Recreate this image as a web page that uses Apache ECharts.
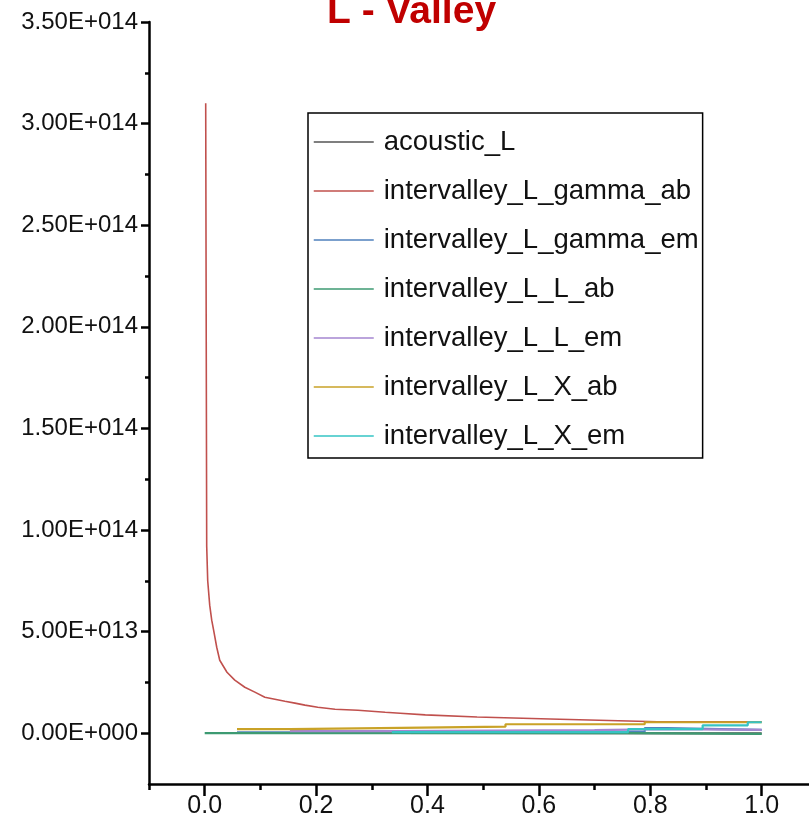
<!DOCTYPE html>
<html>
<head>
<meta charset="utf-8">
<script src="https://cdn.jsdelivr.net/npm/echarts@6/dist/echarts.min.js"></script>
<style>
html,body{margin:0;padding:0;background:#fff;}
#chart{width:809px;height:838px;}
</style>
</head>
<body>
<div id="chart"></div>
<script>
// ---- data ----
const seriesNames = ['acoustic_L','intervalley_L_gamma_ab','intervalley_L_gamma_em','intervalley_L_L_ab','intervalley_L_L_em','intervalley_L_X_ab','intervalley_L_X_em'];

const acousticX = [0.185, 0.336, 1.0];
const acousticY = [0.1e12, -0.1e12, -0.1e12];

const gammaAbX = [0.0018, 0.0036, 0.0054, 0.009, 0.0126, 0.016, 0.0216, 0.027, 0.040, 0.054, 0.072, 0.090, 0.108, 0.126, 0.144, 0.162, 0.180, 0.203, 0.234, 0.275, 0.324, 0.351, 0.396, 0.489, 0.620, 0.813, 1.0];
const gammaAbY = [3.10e14, 9.2e13, 7.5e13, 6.3e13, 5.56e13, 5.07e13, 4.23e13, 3.59e13, 3.0e13, 2.61e13, 2.26e13, 2.02e13, 1.77e13, 1.67e13, 1.57e13, 1.48e13, 1.38e13, 1.28e13, 1.18e13, 1.13e13, 1.03e13, 0.98e13, 0.90e13, 0.80e13, 0.70e13, 0.56e13, 0.56e13];

const gammaEmX = [0.058, 0.336, 0.79, 0.83, 1.0];
const gammaEmY = [0.4e12, 0.8e12, 2.5e12, 1.6e12, 1.6e12];

const llAbX = [0.0, 0.76, 1.0];
const llAbY = [0.0, -0.3e12, -0.3e12];

const llEmX = [0.153, 0.336, 0.70, 0.83, 1.0];
const llEmY = [1.0e12, 1.5e12, 2.0e12, 1.6e12, 1.6e12];

const lxAbX = [0.058, 0.153, 0.315, 0.54, 0.79, 1.0];
const lxAbY = [2.0e12, 2.5e12, 3.2e12, 4.4e12, 5.4e12, 5.4e12];

const lxEmX = [0.336, 0.76, 0.894, 0.975, 1.0];
const lxEmY = [0.5e12, 2.0e12, 3.9e12, 5.4e12, 5.4e12];

const xTicks = [0, 0.2, 0.4, 0.6, 0.8, 1.0];
const xMinorTicks = [-0.1, 0.1, 0.3, 0.5, 0.7, 0.9, 1.1];
const yTicks = [0, 5e13, 1e14, 1.5e14, 2e14, 2.5e14, 3e14, 3.5e14];
const yMinorTicks = [2.5e13, 7.5e13, 1.25e14, 1.75e14, 2.25e14, 2.75e14, 3.25e14];

const colors = ['#555555', '#c0504d', '#4f81bd', '#3d9a72', '#a586d0', '#c9a227', '#35c4c4'];

// ---- build ----
function pairs(xs, ys){ return xs.map((x,i)=>[x, ys[i]]); }
function sci(v){
  if (v === 0) return '0.00E+000';
  const s = v.toExponential(2);
  const parts = s.split('e');
  const sign = parts[1][0];
  const d = parts[1].slice(1).padStart(3,'0');
  return parts[0] + 'E' + sign + d;
}
const FONT = "'Liberation Sans','Arial',sans-serif";
const dataSets = [
  pairs(acousticX, acousticY),
  pairs(gammaAbX, gammaAbY),
  pairs(gammaEmX, gammaEmY),
  pairs(llAbX, llAbY),
  pairs(llEmX, llEmY),
  pairs(lxAbX, lxAbY),
  pairs(lxEmX, lxEmY)
];

const series = seriesNames.map((name, i) => ({
  name: name,
  type: 'line',
  data: dataSets[i],
  step: i === 1 ? false : 'end',
  symbol: 'none',
  showSymbol: false,
  color: colors[i],
  lineStyle: {color: colors[i], width: i === 1 ? 1.6 : 2.2},
  z: 2 + i,
  animation: false
}));

const axisLineStyle = {color: '#000', width: 2.5};

const option = {
  animation: false,
  backgroundColor: '#ffffff',
  title: {
    text: 'L - Valley',
    left: 327,
    top: -7,
    padding: 0,
    textStyle: {
      color: '#c00000',
      fontSize: 39,
      fontWeight: 'bold',
      fontFamily: "'Liberation Sans','Arial',sans-serif"
    }
  },
  legend: {
    orient: 'vertical',
    left: 308,
    top: 113,
    padding: [15, 4, 8, 5],
    itemGap: 21,
    itemWidth: 60,
    itemHeight: 30,
    borderColor: '#000',
    borderWidth: 1.5,
    backgroundColor: '#fff',
    data: seriesNames,
    itemStyle: {opacity: 0, borderWidth: 0},
    lineStyle: {width: 1.5},
    textStyle: {
      fontFamily: FONT,
      fontSize: 27.5,
      color: '#111',
      padding: [0, 0, 0, 5]
    }
  },
  grid: {
    left: 149,
    top: 22,
    right: -8.4,
    bottom: 54,
    containLabel: false,
    outerBoundsMode: 'none'
  },
  xAxis: [
    {
      type: 'value',
      min: -0.1,
      max: 1.1,
      position: 'bottom',
      axisLine: {show: true, onZero: false, lineStyle: axisLineStyle},
      axisTick: {show: true, customValues: xTicks, length: 12, lineStyle: axisLineStyle},
      axisLabel: {
        customValues: xTicks,
        formatter: v => Number(v).toFixed(1),
        margin: 10,
        fontFamily: FONT,
        fontSize: 25,
        color: '#111'
      },
      splitLine: {show: false}
    },
    {
      type: 'value',
      min: -0.1,
      max: 1.1,
      position: 'bottom',
      axisLine: {show: false, onZero: false},
      axisTick: {show: true, customValues: xMinorTicks, length: 6, lineStyle: axisLineStyle},
      axisLabel: {show: false},
      splitLine: {show: false}
    }
  ],
  yAxis: [
    {
      type: 'value',
      min: -2.5e13,
      max: 3.5e14,
      position: 'left',
      axisLine: {show: true, onZero: false, lineStyle: axisLineStyle},
      axisTick: {show: true, customValues: yTicks, length: 8, lineStyle: axisLineStyle},
      axisLabel: {
        customValues: yTicks,
        formatter: v => sci(Number(v)),
        margin: 11,
        fontFamily: FONT,
        fontSize: 24,
        color: '#111'
      },
      splitLine: {show: false}
    },
    {
      type: 'value',
      min: -2.5e13,
      max: 3.5e14,
      position: 'left',
      axisLine: {show: false, onZero: false},
      axisTick: {show: true, customValues: yMinorTicks, length: 4, lineStyle: axisLineStyle},
      axisLabel: {show: false},
      splitLine: {show: false}
    }
  ],
  series: series
};

const chart = echarts.init(document.getElementById('chart'), null, {renderer: 'canvas'});
chart.setOption(option);
</script>
</body>
</html>
